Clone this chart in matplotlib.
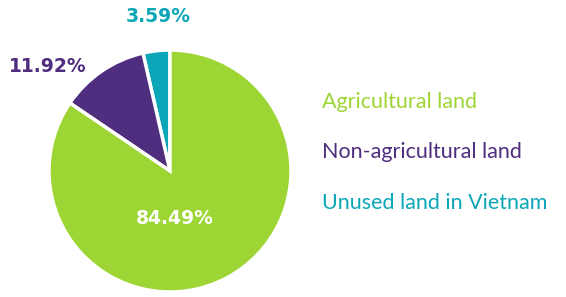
import matplotlib
matplotlib.use("Agg")
import matplotlib.pyplot as plt

categories = ["Unused land in Vietnam", "Non-agricultural land", "Agricultural land"]
shares = [3.59, 11.92, 84.49]
colors = ["#0ba6b7", "#4f2d7f", "#9dd634"]

W, H = 566, 297
fig = plt.figure(figsize=(W/100, H/100), dpi=100)

# pie box in pixels: centre (170,171), radius 121
cx, cy, r = 170, 171, 121
ax = fig.add_axes([(cx-r)/W, (H-cy-r)/H, 2*r/W, 2*r/H])
ax.pie(shares, colors=colors, startangle=90, counterclock=True,
       wedgeprops=dict(edgecolor="white", linewidth=2.5))
ax.set_xlim(-1, 1)
ax.set_ylim(-1, 1)
ax.set_aspect("equal")

# percentage labels (pixel positions of centres)
pct_pos = [(158, 17), (48, 67), (175, 219)]
pct_col = [colors[0], colors[1], "white"]
for v, (px, py), c in zip(shares, pct_pos, pct_col):
    fig.text(px/W, 1-py/H, f"{v:.2f}%", color=c, fontsize=13.5, fontweight="bold",
             family="DejaVu Sans", ha="center", va="center")

# legend-like labels on the right
leg_y = [102, 152, 203]
for name, c, py in zip(categories[::-1], colors[::-1], leg_y):
    fig.text(322/W, 1-py/H, name, color=c, fontsize=15.5, family="Lato",
             ha="left", va="center")

fig.savefig("out.png", dpi=100)
